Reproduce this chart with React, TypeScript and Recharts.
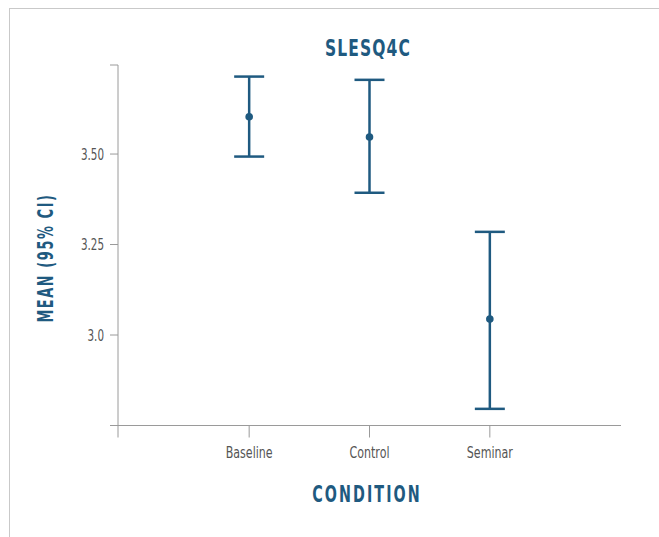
import { ComposedChart, Scatter, ErrorBar, XAxis, YAxis } from "recharts";

const conditions = ["Baseline", "Control", "Seminar"];
const means = [3.603, 3.547, 3.044];
const lowerCI = [3.493, 3.393, 2.796];
const upperCI = [3.714, 3.705, 3.285];

const yTicks = [2.75, 3.0, 3.25, 3.5, 3.746];
const yTickLabels = ["", "3.0", "3.25", "3.50", ""];
const xTicks = [-1.09, 0, 1, 2];

const BLUE = "#1f5a80";
const AXIS = "#9a9a9a";
const TICK_TEXT = "#555";
const FONT = "'DejaVu Sans', sans-serif";

const data = conditions.map((c, i) => ({
  x: i,
  name: c,
  mean: means[i],
  err: [means[i] - lowerCI[i], upperCI[i] - means[i]],
}));

const labelStyle = {
  position: "absolute" as const,
  fontFamily: FONT,
  fontStretch: "condensed",
  fontWeight: 700,
  color: BLUE,
  whiteSpace: "nowrap" as const,
};

// narrow tick text, squeezed horizontally around its anchor
function XTick(props: any) {
  const { x, y, payload } = props;
  const v = payload.value;
  const label = Number.isInteger(v) ? conditions[v] ?? "" : "";
  return (
    <text
      x={x}
      y={y}
      dy="0.71em"
      textAnchor="middle"
      fill={TICK_TEXT}
      fontSize={16}
      fontFamily={FONT}
      style={{ fontStretch: "condensed" }}
      transform={`translate(${x},0) scale(0.77,1) translate(${-x},0)`}
    >
      {label}
    </text>
  );
}

function YTick(props: any) {
  const { x, y, payload } = props;
  const label = yTickLabels[yTicks.indexOf(payload.value)] ?? "";
  return (
    <text
      x={x}
      y={y}
      dy="0.355em"
      textAnchor="end"
      fill={TICK_TEXT}
      fontSize={16}
      fontFamily={FONT}
      style={{ fontStretch: "condensed" }}
      transform={`translate(${x},0) scale(0.72,1) translate(${-x},0)`}
    >
      {label}
    </text>
  );
}

export default function App() {
  return (
    <div style={{ position: "absolute", left: 0, top: 0, width: 659, height: 537, background: "#fff", overflow: "hidden" }}>
      <div
        style={{
          position: "absolute",
          left: 9,
          top: 8,
          width: 700,
          height: 600,
          borderLeft: "1.5px solid #c9c9c9",
          borderTop: "1.5px solid #c9c9c9",
        }}
      />
      <div
        style={{
          ...labelStyle,
          left: 368,
          top: 48,
          fontSize: 23,
          letterSpacing: 1.5,
          transform: "translate(-50%, -50%) scaleX(0.75)",
        }}
      >
        SLESQ4C
      </div>
      <div
        style={{
          ...labelStyle,
          left: 45,
          top: 258,
          fontSize: 22,
          letterSpacing: 2.5,
          transform: "translate(-50%, -50%) rotate(-90deg) scaleX(0.65)",
        }}
      >
        MEAN (95% CI)
      </div>
      <div
        style={{
          ...labelStyle,
          left: 367,
          top: 494,
          fontSize: 23,
          letterSpacing: 3,
          transform: "translate(-50%, -50%) scaleX(0.69)",
        }}
      >
        CONDITION
      </div>
      <ComposedChart
        width={659}
        height={537}
        data={data}
        margin={{ top: 65, right: 38, bottom: 71.5, left: 0 }}
        style={{ position: "absolute", left: 0, top: 0 }}
      >
        <XAxis
          dataKey="x"
          type="number"
          domain={[-1.09, 3.09]}
          ticks={xTicks}
          allowDataOverflow
          height={40}
          stroke={AXIS}
          tickSize={12}
          tickMargin={9}
          tick={XTick}
        />
        <YAxis
          dataKey="mean"
          type="number"
          domain={[2.75, 3.746]}
          ticks={yTicks}
          allowDataOverflow
          width={118}
          stroke={AXIS}
          tickSize={8}
          tickMargin={6}
          tick={YTick}
        />
        <Scatter dataKey="mean" fill={BLUE} isAnimationActive={false} shape={(p: any) => <circle cx={p.cx} cy={p.cy} r={3.8} fill={BLUE} />}>
          <ErrorBar dataKey="err" direction="y" width={15} stroke={BLUE} strokeWidth={2.5} isAnimationActive={false} />
        </Scatter>
      </ComposedChart>
    </div>
  );
}
